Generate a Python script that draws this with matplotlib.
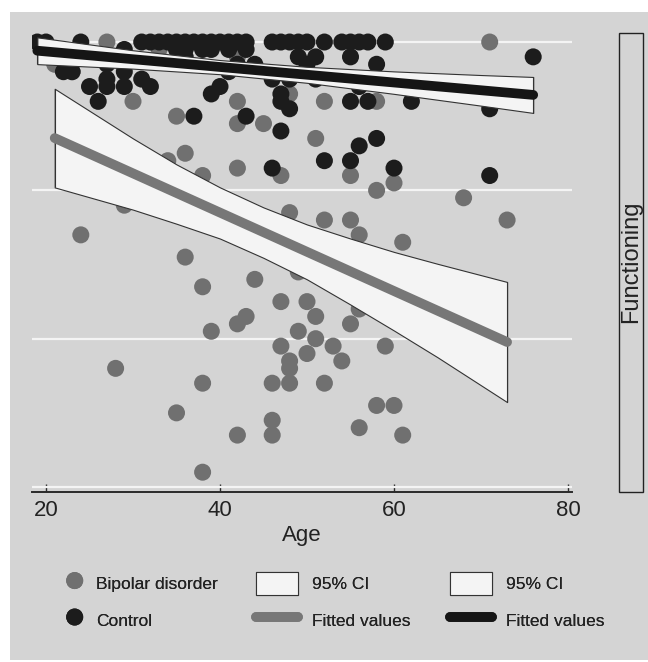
import numpy as np
import matplotlib
matplotlib.use("Agg")
import matplotlib.pyplot as plt
from matplotlib.patches import Rectangle

plt.rcParams['font.family'] = ['Liberation Sans', 'DejaVu Sans']

# bipolar disorder group (age, functioning)
bd_age = [71, 30, 35, 42, 42, 45, 36, 34, 42, 47, 38, 51, 24, 36, 48, 29, 27, 21, 23, 33,
          42, 48, 52, 58, 55, 60, 58, 68, 52, 55, 56, 61, 73, 38, 44, 47, 50, 51, 43, 42,
          39, 49, 51, 47, 50, 48, 48, 28, 38, 46, 48, 52, 35, 46, 46, 42, 38, 49, 53, 55,
          56, 54, 59, 58, 60, 56, 61]
bd_func = [60, 52, 50, 52, 49, 49, 45, 44, 43, 42, 42, 47, 34, 31, 37, 38, 60, 57, 56, 59,
           58, 53, 52, 52, 42, 41, 40, 39, 36, 36, 34, 33, 36, 27, 28, 25, 25, 23, 23, 22,
           21, 21, 20, 19, 18, 17, 16, 16, 14, 14, 14, 14, 10, 9, 7, 7, 2, 29, 19, 22,
           24, 17, 19, 11, 11, 8, 7]

# control group (age, functioning)
ctl_age = [19, 20, 24, 31, 32, 33, 34, 35, 36, 37, 38, 39, 40, 41, 42, 43, 46, 47, 48, 49,
           50, 52, 54, 55, 56, 57, 59,
           29, 35, 36, 38, 39, 41, 43,
           51, 55, 49, 76, 36,
           50, 58, 42, 44, 27,
           22, 23, 29, 41,
           27, 31, 46, 48, 51,
           25, 27, 29, 32, 40, 56,
           39, 47,
           26, 47, 55, 57, 62,
           48, 71, 37, 43, 47, 58, 56, 52, 55, 46, 60, 71]
ctl_func = [60, 60, 60, 60, 60, 60, 60, 60, 60, 60, 60, 60, 60, 60, 60, 60, 60, 60, 60, 60,
            60, 60, 60, 60, 60, 60, 60,
            59, 59, 59, 59, 59, 59, 59,
            58, 58, 58, 58, 58,
            57, 57, 57, 57, 57,
            56, 56, 56, 56,
            55, 55, 55, 55, 55,
            54, 54, 54, 54, 54, 54,
            53, 53,
            52, 52, 52, 52, 52,
            51, 51, 50, 50, 48, 47, 46, 44, 44, 43, 43, 42]

# fitted values and 95% CI
bd_fit_age = [21, 73]
bd_fit = [47.05, 19.55]
bd_ci_age = [21, 30, 35, 40, 45, 50, 55, 60, 65, 73]
bd_ci_hi = [53.7, 47.0, 43.5, 40.4, 37.7, 35.4, 33.5, 31.7, 30.1, 27.65]
bd_ci_lo = [40.4, 37.4, 35.5, 33.5, 30.9, 28.0, 24.6, 21.1, 17.5, 11.45]

ctl_fit_age = [19, 76]
ctl_fit = [58.83, 52.87]
ctl_ci_age = [19, 30, 40, 50, 60, 70, 76]
ctl_ci_hi = [60.63, 58.89, 57.57, 56.66, 56.04, 55.55, 55.29]
ctl_ci_lo = [57.02, 56.41, 55.66, 54.50, 53.01, 51.42, 50.44]

bg = '#d4d4d4'
grey_pt = '#707070'
dark_pt = '#1c1c1c'
ci_fill = '#f4f4f4'

fig = plt.figure(figsize=(6.48, 6.62), dpi=100, facecolor='white')
fig.patches.append(Rectangle((10/648, 2/662), 638/648, 648/662, transform=fig.transFigure,
                             facecolor=bg, edgecolor='none', zorder=-10))

ax = fig.add_axes([32/648, 1 - 492/662, 540/648, 470/662])
ax.patch.set_visible(False)

s1 = ax.scatter(bd_age, bd_func, s=150, color=grey_pt, edgecolors='none', zorder=2)
s2 = ax.scatter(ctl_age, ctl_func, s=150, color=dark_pt, edgecolors='none', zorder=3)

c1 = ax.fill_between(bd_ci_age, bd_ci_lo, bd_ci_hi, facecolor=ci_fill, edgecolor='#333333',
                     linewidth=0.8, zorder=4)
ax.vlines([bd_ci_age[0], bd_ci_age[-1]], [bd_ci_lo[0], bd_ci_lo[-1]],
          [bd_ci_hi[0], bd_ci_hi[-1]], color='#333333', lw=0.8, zorder=4)
l1, = ax.plot(bd_fit_age, bd_fit, color='#777777', lw=7, solid_capstyle='round', zorder=5)

c2 = ax.fill_between(ctl_ci_age, ctl_ci_lo, ctl_ci_hi, facecolor=ci_fill, edgecolor='#333333',
                     linewidth=0.8, zorder=6)
ax.vlines([ctl_ci_age[0], ctl_ci_age[-1]], [ctl_ci_lo[0], ctl_ci_lo[-1]],
          [ctl_ci_hi[0], ctl_ci_hi[-1]], color='#333333', lw=0.8, zorder=6)
l2, = ax.plot(ctl_fit_age, ctl_fit, color='#151515', lw=7, solid_capstyle='round', zorder=7)

ax.set_xlim(18.39, 80.46)
ax.set_ylim(-0.67, 62.7)
ax.set_yticks([0, 20, 40, 60])
ax.set_yticklabels([])
ax.tick_params(axis='y', length=0)
ax.grid(axis='y', color='#f4f4f4', lw=1.6, zorder=0)
ax.set_axisbelow(True)
for side in ['top', 'right', 'left']:
    ax.spines[side].set_visible(False)
ax.spines['bottom'].set_color('#2a2a2a')
ax.spines['bottom'].set_linewidth(1.4)

ax.set_xticks([20, 40, 60, 80])
ax.tick_params(axis='x', direction='in', length=6, width=1, color='#2a2a2a',
               labelsize=16, labelcolor='#222222', pad=6)
ax.set_xlabel('Age', fontsize=16, color='#222222', labelpad=3)

# legend, one block per column
leg_kw = dict(loc='upper left', frameon=False, fontsize=12.5, handleheight=1.7,
              labelspacing=0.75, borderpad=0, borderaxespad=0, labelcolor='#222222')
cols = [([s1, s2], ['Bipolar disorder', 'Control'], 66, 1.0, 0.73),
        ([c1, l1], ['95% CI', 'Fitted values'], 256, 2.4, 0.85),
        ([c2, l2], ['95% CI', 'Fitted values'], 450, 2.4, 0.85)]
for handles, labels, x0, hl, tp in cols:
    lg = fig.legend(handles, labels, bbox_to_anchor=(x0/648, 1 - 572/662),
                    handlelength=hl, handletextpad=tp, **leg_kw)
    fig.add_artist(lg)

fig.patches.append(Rectangle((619/648, 1 - 492/662), 24/648, 459/662, transform=fig.transFigure,
                             facecolor='none', edgecolor='#222222', lw=1))
fig.text(631/648, 1 - 262/662, 'Functioning', rotation=90, ha='center', va='center',
         fontsize=17, color='#222222')

fig.savefig('out.png', dpi=100, facecolor=fig.get_facecolor())
